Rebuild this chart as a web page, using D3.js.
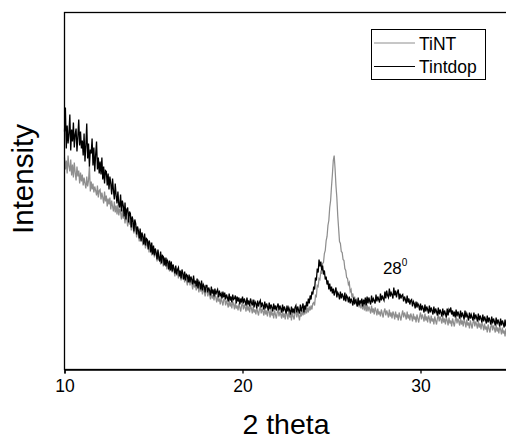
<!DOCTYPE html>
<html>
<head>
<meta charset="utf-8">
<script src="https://cdn.jsdelivr.net/npm/d3@7"></script>
<style>
  html, body { margin: 0; padding: 0; background: #fff; }
  svg { display: block; font-family: "Liberation Sans", Arial, sans-serif; }
</style>
</head>
<body>
<svg id="chart" width="506" height="439"></svg>
<script>
// ---- data (intensity in arbitrary units) ----
const thetaStart = 10;
const thetaStep = 0.05;
const xTicks = [10, 20, 30];
const seriesNames = ["TiNT", "Tintdop"];
const annotationText = "28";
const annotationSup = "0";
const annotationTheta = 28;
const annotationIntensity = 96;

// TiNT (grey trace), 10.00 .. 35.00 deg, step 0.05 (one row per degree)
const tint = [
  212, 200, 209, 196, 214, 203, 198, 210, 194, 205, 192, 207, 197, 189, 203, 193, 199, 186, 197, 188,
  195, 184, 192, 186, 181, 193, 183, 189, 204, 178, 188, 180, 186, 177, 183, 179, 174, 184, 172, 179,
  180, 170, 177, 172, 166, 178, 168, 174, 163, 171, 165, 172, 160, 169, 163, 158, 168, 157, 164, 155,
  165, 154, 161, 157, 150, 160, 151, 155, 146, 154, 150, 143, 153, 145, 148, 139, 147, 142, 136, 144,
  143, 132, 139, 135, 128, 138, 129, 133, 124, 132, 128, 121, 130, 123, 126, 117, 125, 120, 114, 121,
  122, 112, 119, 115, 108, 118, 109, 113, 105, 114, 110, 103, 112, 105, 108, 100, 107, 103, 98, 104,
  106, 97, 103, 99, 93, 102, 94, 98, 91, 99, 95, 89, 97, 90, 94, 87, 93, 89, 84, 90,
  92, 84, 90, 86, 80, 89, 82, 85, 79, 87, 83, 77, 85, 78, 82, 75, 81, 78, 73, 79,
  80, 73, 78, 75, 70, 79, 71, 74, 69, 76, 72, 67, 74, 68, 71, 65, 72, 68, 64, 70,
  71, 64, 69, 66, 62, 70, 63, 67, 61, 68, 65, 60, 67, 61, 64, 59, 66, 62, 58, 64,
  67, 60, 65, 62, 58, 66, 59, 63, 57, 64, 61, 56, 63, 57, 60, 55, 62, 58, 54, 60,
  63, 56, 61, 58, 54, 62, 55, 59, 53, 60, 58, 52, 60, 54, 57, 51, 59, 55, 51, 57,
  60, 53, 58, 55, 51, 59, 52, 56, 50, 58, 55, 50, 59, 52, 56, 49, 58, 53, 50, 57,
  59, 52, 58, 54, 49, 57, 53, 60, 54, 59, 55, 61, 56, 62, 57, 63, 59, 64, 60, 66,
  67, 64, 74, 73, 84, 83, 91, 90, 98, 97, 106, 107, 116, 119, 129, 133, 144, 149, 162, 169,
  183, 195, 209, 214, 201, 184, 172, 154, 141, 128, 126, 118, 117, 110, 109, 101, 99, 92, 91, 85,
  87, 78, 80, 72, 76, 68, 73, 66, 71, 63, 70, 62, 69, 61, 68, 60, 67, 59, 66, 58,
  65, 58, 63, 60, 56, 64, 57, 61, 55, 62, 59, 54, 61, 55, 58, 53, 60, 56, 52, 58,
  61, 54, 59, 56, 52, 60, 53, 57, 51, 58, 55, 50, 58, 52, 55, 49, 57, 53, 49, 55,
  59, 52, 57, 54, 50, 58, 51, 55, 49, 56, 53, 48, 56, 50, 53, 47, 55, 51, 47, 53,
  57, 50, 55, 52, 48, 56, 49, 53, 47, 54, 51, 46, 54, 48, 51, 45, 53, 49, 45, 51,
  55, 48, 53, 50, 46, 54, 47, 51, 45, 52, 49, 44, 52, 46, 49, 43, 51, 47, 43, 49,
  53, 46, 51, 48, 44, 52, 45, 49, 43, 50, 47, 42, 50, 44, 47, 41, 49, 45, 41, 47,
  50, 43, 48, 45, 41, 49, 42, 46, 40, 47, 44, 39, 46, 40, 43, 37, 45, 41, 37, 43,
  46, 39, 44, 41, 37, 45, 38, 42, 36, 43, 40, 35, 42, 36, 39, 33, 41, 37, 33, 39,
  38
];

// Tintdop (black trace), 10.00 .. 35.00 deg, step 0.05 (one row per degree)
const tintdop = [
  238, 262, 221, 244, 226, 236, 255, 219, 240, 228, 247, 222, 235, 241, 218, 233, 250, 224, 238, 221,
  229, 214, 236, 208, 224, 246, 211, 226, 203, 220, 216, 231, 204, 222, 198, 215, 228, 200, 212, 196,
  208, 195, 212, 190, 203, 186, 199, 198, 184, 196, 180, 193, 186, 175, 191, 179, 170, 186, 174, 166,
  178, 165, 162, 175, 158, 169, 164, 153, 167, 150, 160, 162, 147, 158, 156, 142, 153, 149, 138, 150,
  146, 135, 143, 139, 131, 141, 128, 137, 133, 125, 136, 124, 131, 130, 120, 129, 126, 117, 127, 115,
  124, 114, 121, 117, 110, 120, 112, 108, 118, 106, 114, 113, 104, 112, 103, 110, 108, 100, 109, 99,
  108, 98, 105, 101, 96, 104, 95, 100, 102, 93, 99, 91, 100, 96, 90, 98, 89, 95, 94, 87,
  95, 87, 93, 90, 85, 94, 86, 89, 83, 91, 81, 88, 86, 80, 89, 79, 85, 83, 77, 84,
  84, 77, 82, 79, 74, 83, 76, 80, 73, 81, 75, 78, 80, 72, 79, 74, 76, 71, 78, 72,
  77, 70, 75, 72, 68, 76, 69, 73, 67, 75, 70, 71, 74, 66, 73, 68, 72, 65, 71, 67,
  73, 66, 71, 68, 64, 72, 65, 69, 63, 71, 67, 64, 70, 62, 68, 66, 61, 69, 63, 67,
  69, 62, 67, 64, 60, 68, 61, 66, 63, 59, 67, 60, 65, 62, 58, 66, 60, 64, 59, 63,
  66, 59, 64, 61, 57, 65, 58, 63, 60, 56, 64, 58, 62, 59, 55, 63, 57, 61, 56, 62,
  64, 57, 63, 59, 56, 65, 58, 62, 66, 57, 64, 60, 68, 63, 71, 66, 74, 70, 78, 75,
  83, 80, 92, 89, 101, 97, 110, 103, 108, 99, 104, 95, 99, 90, 93, 85, 89, 80, 86, 78,
  83, 76, 81, 74, 78, 82, 72, 77, 75, 70, 78, 71, 76, 73, 69, 77, 68, 74, 72, 67,
  73, 66, 71, 68, 64, 72, 65, 70, 67, 63, 72, 64, 69, 66, 71, 63, 70, 65, 72, 64,
  73, 66, 72, 68, 65, 74, 67, 71, 69, 66, 75, 68, 73, 70, 67, 76, 69, 74, 71, 69,
  78, 71, 79, 74, 72, 81, 73, 77, 75, 71, 82, 74, 79, 72, 77, 80, 70, 76, 71, 74,
  75, 68, 73, 70, 66, 74, 67, 71, 65, 69, 70, 63, 68, 66, 61, 68, 62, 66, 64, 59,
  66, 59, 64, 61, 57, 65, 58, 63, 60, 56, 64, 57, 62, 59, 55, 63, 56, 61, 58, 54,
  62, 55, 60, 57, 53, 61, 54, 59, 56, 52, 61, 54, 60, 58, 62, 55, 59, 53, 58, 52,
  60, 53, 58, 55, 51, 59, 52, 57, 54, 50, 59, 52, 56, 53, 49, 57, 51, 55, 52, 49,
  57, 50, 55, 52, 48, 56, 49, 54, 51, 47, 55, 48, 53, 50, 46, 54, 47, 52, 49, 45,
  53, 46, 51, 48, 44, 52, 45, 50, 47, 43, 51, 44, 49, 46, 42, 50, 43, 48, 45, 41,
  47
];

// ---- layout ----
const svg = d3.select("#chart");
const plotLeft = 64.5, plotTop = 12.5, plotBottom = 369.5;
const pxPerDeg = 17.8;
const x = d3.scaleLinear().domain([10, 35]).range([plotLeft, plotLeft + 25 * pxPerDeg]);
const y = d3.scaleLinear().domain([0, 357]).range([plotBottom, plotTop]);

const line = d3.line()
  .x((d, i) => x(thetaStart + i * thetaStep))
  .y(d => y(d));

// traces
svg.append("path").datum(tint)
  .attr("d", line).attr("fill", "none")
  .attr("stroke", "#8e8e8e").attr("stroke-width", 1.25);
svg.append("path").datum(tintdop)
  .attr("d", line).attr("fill", "none")
  .attr("stroke", "#000").attr("stroke-width", 1.3);

// frame (top and left, right is outside the window)
svg.append("rect")
  .attr("x", plotLeft).attr("y", plotTop)
  .attr("width", x(35) - plotLeft).attr("height", plotBottom - plotTop)
  .attr("fill", "none").attr("stroke", "#000").attr("stroke-width", 1.3);

// x axis
const xAxis = d3.axisBottom(x).tickValues(xTicks).tickSize(4).tickPadding(6)
  .tickFormat(d3.format("d"));
const gx = svg.append("g").attr("transform", `translate(0,${plotBottom})`).call(xAxis);
gx.select(".domain").attr("stroke-width", 1.3);
gx.selectAll(".tick line").attr("stroke-width", 1.3);
gx.selectAll("text").attr("font-size", 17.5)
  .attr("font-family", '"Liberation Sans", Arial, sans-serif').attr("fill", "#000");

// axis titles
svg.append("text").attr("x", 286).attr("y", 434)
  .attr("text-anchor", "middle").attr("font-size", 28.5).text("2 theta");
svg.append("text")
  .attr("transform", "translate(33,179) rotate(-90)")
  .attr("text-anchor", "middle").attr("font-size", 29.5).text("Intensity");

// annotation
const ann = svg.append("text")
  .attr("x", x(annotationTheta) - 2).attr("y", y(annotationIntensity))
  .attr("font-size", 17);
ann.append("tspan").text(annotationText);
ann.append("tspan").attr("font-size", 10).attr("dy", -8).text(annotationSup);

// legend
const lg = svg.append("g");
lg.append("rect").attr("x", 371.5).attr("y", 29.5).attr("width", 114).attr("height", 50)
  .attr("fill", "#fff").attr("stroke", "#000").attr("stroke-width", 1);
const legendColors = ["#8e8e8e", "#000"];
seriesNames.forEach((name, i) => {
  const ly = 43 + i * 23.5;
  lg.append("line").attr("x1", 374).attr("x2", 415).attr("y1", ly).attr("y2", ly)
    .attr("stroke", legendColors[i]).attr("stroke-width", 1);
  lg.append("text").attr("x", 419).attr("y", ly + 6.5)
    .attr("font-size", 17.5).text(name);
});
</script>
</body>
</html>
